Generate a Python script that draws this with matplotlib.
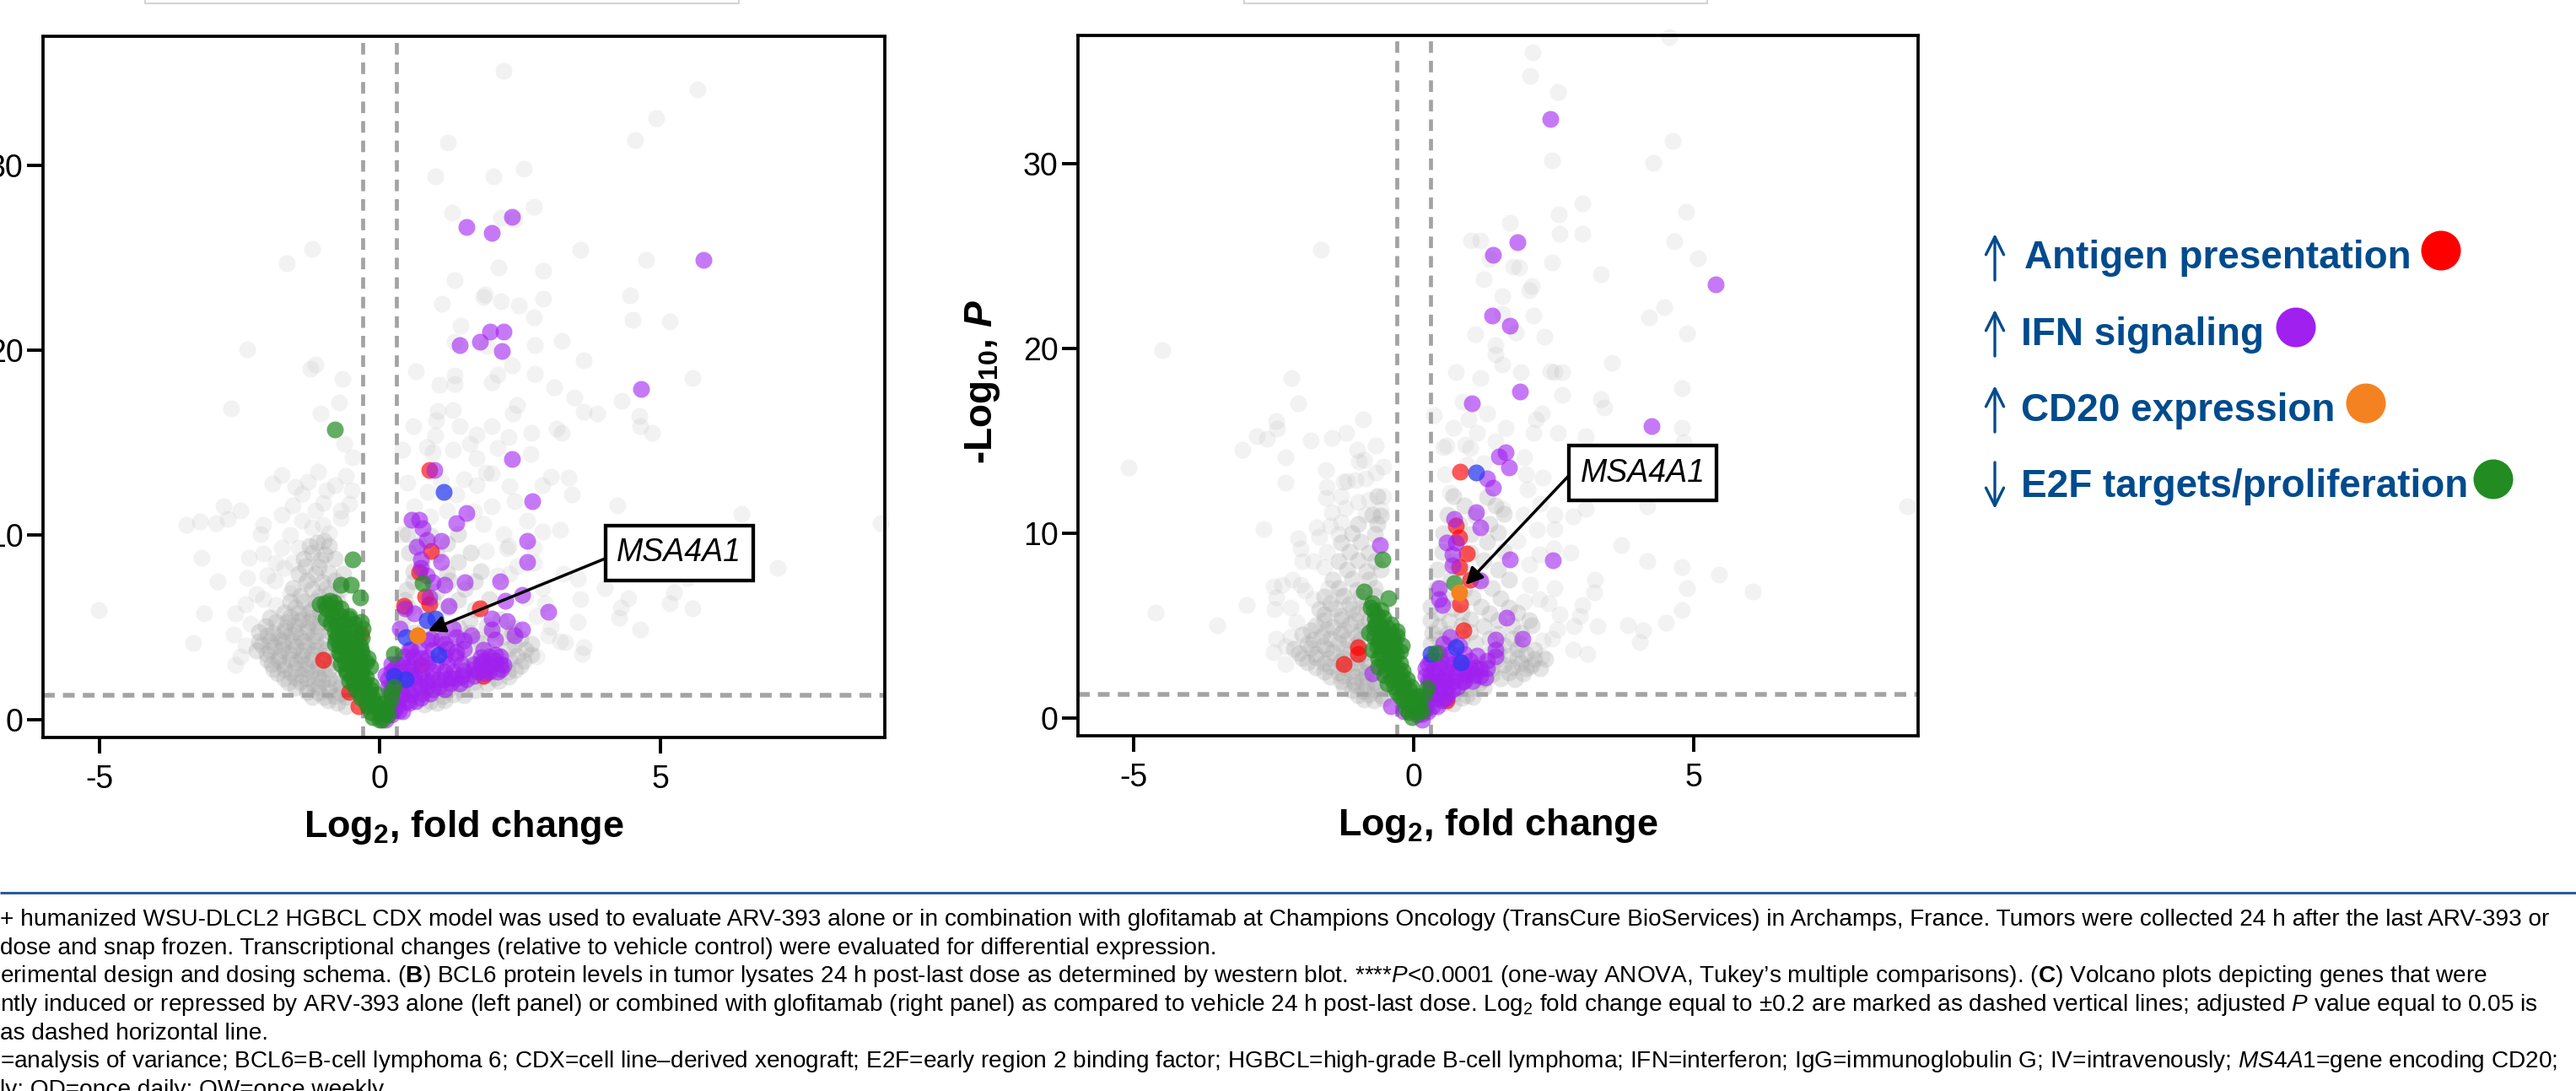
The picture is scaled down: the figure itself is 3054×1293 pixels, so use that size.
import numpy as np
from matplotlib import pyplot as plt
from matplotlib.patches import Rectangle, Ellipse

plt.rcParams['font.family'] = ['Liberation Sans', 'DejaVu Sans']
plt.rcParams['axes.unicode_minus'] = False
plt.rcParams['mathtext.fontset'] = 'custom'
plt.rcParams['mathtext.rm'] = 'Liberation Sans'
plt.rcParams['mathtext.it'] = 'Liberation Sans:italic'
plt.rcParams['mathtext.bf'] = 'Liberation Sans:bold'
plt.rcParams['mathtext.bfit'] = 'Liberation Sans:italic:bold'

# (log2 fold change, -log10 P)
left_gray = [
    (2.21,35.08),(5.67,34.09),(4.92,32.54),(4.55,31.37),(1.21,31.2),(2.57,29.8),(0.99,29.38),(2.03,29.38),
    (2.75,27.72),(1.29,27.44),(2.16,27.15),(2.4,27.08),(-1.21,25.46),(-1.65,24.7),(3.57,25.43),(4.74,24.89),
    (2.12,24.44),(2.92,24.26),(1.33,23.77),(1.88,23.01),(1.84,22.85),(1.11,22.51),(2.16,22.62),(2.47,22.41),
    (2.91,22.76),(4.46,22.94),(4.51,21.63),(5.17,21.52),(2.75,21.77),(1.44,21.32),(1.33,20.46),(1.91,20.2),
    (2.76,20.26),(3.25,20.5),(-2.37,20.05),(-1.14,19.22),(-1.24,19.0),(-0.66,18.45),(0.64,18.83),(2.36,19.16),
    (3.63,19.42),(2.77,18.69),(5.57,18.49),(1.34,18.63),(1.06,18.1),(1.34,18.16),(2.1,18.68),(2.0,18.25),
    (3.11,17.98),(3.47,17.41),(4.31,17.25),(-2.65,16.85),(-0.72,17.15),(-1.05,16.58),(1.04,16.7),(1.31,16.73),
    (2.45,17.03),(2.37,16.58),(3.64,16.67),(3.88,16.55),(4.62,16.42),(4.85,15.51),(3.16,15.74),(3.25,15.51),
    (4.64,15.89),(1.42,15.89),(1.73,15.43),(0.99,15.36),(-0.64,14.9),(-0.49,14.2),(0.41,14.6),(0.84,14.75),
    (1.31,14.6),(2.1,14.67),(2.68,14.37),(1.73,14.14),(1.89,13.38),(3.05,13.15),(3.37,13.08),(3.42,12.16),
    (2.9,12.7),(2.31,12.62),(1.73,12.7),(-1.75,13.23),(-1.91,12.77),(-1.28,12.85),(-0.8,12.7),(-1.38,12.24),
    (-1.01,11.71),(-0.7,11.33),(-2.78,11.55),(-2.49,11.33),(-2.71,10.87),(-2.92,10.61),(-3.2,10.72),(-3.45,10.56),
    (-1.75,11.1),(-1.38,10.79),(-1.01,10.56),(-2.07,10.56),(-2.12,10.03),(-5.01,5.95),(-3.13,5.77),(-3.18,8.77),
    (-2.89,7.49),(-3.32,4.17),(-2.58,5.77),(-2.57,2.95),(-2.49,3.41),(-2.39,6.23),(-2.37,7.67),(-2.07,6.53),
    (-2.34,8.74),(-2.07,8.97),(-1.7,8.2),(-1.86,7.52),(-1.6,6.84),(-1.33,7.37),(6.44,11.13),(8.92,10.64),
    (4.24,11.58),(7.09,8.2),(5.49,7.67),(5.24,6.91),(5.17,6.3),(5.57,6.0),(4.43,6.56),(4.29,6.07),(4.27,5.54),
    (4.64,4.9),(4.01,7.11),(3.58,6.53),(3.53,5.31),(3.64,3.94),(3.6,3.56),(3.21,4.25),(3.0,4.55),(2.79,3.41),
    (3.21,10.26),(2.9,10.18),(2.63,10.79),(2.21,10.03),(2.26,9.27),(1.89,9.12),(3.53,7.6),(3.27,7.9),(2.74,8.5),
    (2.31,7.9),(1.68,11.25),(2.0,11.55),(1.36,12.16),(0.94,14.45),(0.62,11.55),(0.41,10.03),
    (-1.6,10.0),(-1.45,9.3),(-1.75,9.3),(-1.2,10.4),(-0.9,10.1),(-0.7,10.9),(-0.55,11.7),(-1.55,11.6),(-1.15,11.3),
    (-0.95,12.4),(-0.6,13.2),(-1.5,12.6),(-1.1,13.4),(-0.5,12.4),(-1.85,8.5),(-1.55,8.5),(-2.0,7.8),(-2.2,6.8),
    (-1.85,6.2),(-2.3,5.2),(-2.6,4.6),(-2.4,4.0),(0.5,12.8),(0.85,12.3),(1.1,12.9),(1.5,13.0),(2.0,13.3),(2.4,11.8),
    (1.2,11.3),(0.9,11.0),(0.55,10.8),(1.85,10.6),(2.3,9.4),(2.75,9.3),(2.45,8.3),(2.1,7.8),(2.9,7.1),(2.6,6.6),
    (2.95,6.3),(2.8,5.6),(3.05,5.0),(3.3,4.2),(1.6,14.9),(2.3,15.3),(2.7,15.5),(0.6,15.9),(2.0,15.9),(1.0,16.2),
]
left_dense = [
    (-0.92,1.05),(-0.76,0.9),(-0.6,0.72),(-1.3,1.5),(-1.08,1.45),(-0.91,1.55),(-0.7,1.4),(-1.62,2.0),(-1.41,2.05),
    (-1.18,1.92),(-1.02,2.08),(-0.79,1.95),(-1.82,2.5),(-1.58,2.55),(-1.39,2.42),(-1.22,2.6),(-0.98,2.46),
    (-1.93,3.02),(-1.71,2.95),(-1.49,3.1),(-1.32,3.0),(-1.1,2.92),(-0.88,3.08),(-2.02,3.55),(-1.79,3.42),
    (-1.62,3.6),(-1.38,3.48),(-1.21,3.58),(-0.98,3.45),(-2.11,4.05),(-1.88,3.95),(-1.72,4.1),(-1.49,3.98),
    (-1.3,4.08),(-1.09,3.92),(-2.0,4.55),(-1.81,4.45),(-1.58,4.6),(-1.42,4.48),(-1.18,4.52),(-2.03,5.05),
    (-1.68,4.98),(-1.52,5.1),(-1.29,4.95),(-1.12,5.08),(-1.95,5.5),(-1.6,5.58),(-1.38,5.45),(-1.2,5.55),
    (-1.5,6.05),(-1.22,5.98),(-0.98,6.1),(-1.42,6.7),(-1.08,6.65),(-0.91,6.78),(-1.3,7.52),(-1.02,7.45),
    (-0.8,7.55),(-1.32,8.3),(-1.09,8.25),(-1.2,9.02),(-0.98,8.95),(-1.12,9.6),(-0.99,9.65),
    (-1.2,1.25),(-1.0,1.22),(-0.8,1.28),(-0.6,1.24),(-1.5,1.75),(-1.3,1.72),(-1.1,1.78),(-0.9,1.74),(-0.7,1.76),
    (-1.7,2.25),(-1.5,2.28),(-1.3,2.22),(-1.1,2.26),(-0.9,2.24),(-0.7,2.27),(-1.9,2.75),(-1.7,2.72),(-1.5,2.78),
    (-1.3,2.74),(-1.1,2.76),(-0.9,2.73),(-2.0,3.25),(-1.8,3.22),(-1.6,3.28),(-1.4,3.24),(-1.2,3.26),(-1.0,3.23),
    (-0.8,3.27),(-2.2,3.75),(-1.95,3.72),(-1.75,3.78),(-1.55,3.74),(-1.35,3.76),(-1.15,3.73),(-0.95,3.77),
    (-2.15,4.25),(-1.95,4.22),(-1.75,4.28),(-1.55,4.24),(-1.35,4.26),(-1.15,4.23),(-0.95,4.27),(-2.15,4.75),
    (-1.9,4.72),(-1.7,4.78),(-1.5,4.74),(-1.3,4.76),(-1.1,4.73),(-0.9,4.77),(-1.85,5.3),(-1.65,5.27),(-1.45,5.33),
    (-1.25,5.29),(-1.05,5.31),(-0.85,5.28),(-1.7,5.8),(-1.45,5.78),(-1.25,5.83),(-1.05,5.79),(-0.85,5.81),
    (-1.6,6.4),(-1.35,6.38),(-1.15,6.43),(-0.95,6.39),(-0.75,6.41),(-1.55,7.1),(-1.2,7.08),(-0.95,7.13),(-0.7,7.09),
    (-1.45,7.9),(-1.15,7.88),(-0.9,7.93),(-0.65,7.89),(-1.35,8.7),(-1.05,8.68),(-0.8,8.73),(-1.25,9.4),(-0.9,9.38),
    (0.79,0.82),(1.02,0.9),(1.12,1.28),(1.31,1.35),(1.5,1.3),(1.42,1.98),(1.68,2.05),(1.92,1.95),(2.12,2.08),
    (1.61,2.55),(2.02,2.62),(2.28,2.58),(2.42,2.68),(1.42,3.2),(1.88,3.15),(2.31,3.25),(2.56,3.18),(1.2,3.82),
    (1.92,3.75),(2.29,3.85),(2.6,3.78),(0.98,4.42),(1.72,4.38),(2.21,4.45),(2.5,4.36),(0.81,5.02),(1.41,4.95),
    (1.9,5.05),(2.38,4.98),(0.52,6.02),(0.82,5.95),(1.22,6.05),(1.7,5.98),(0.48,7.02),(1.02,6.95),(1.52,7.05),
    (0.6,8.02),(1.2,7.95),(1.8,8.05),(0.52,9.02),(1.02,8.95),(1.62,9.05),(0.5,10.02),(0.92,9.95),(1.4,10.05),
    (0.9,1.0),(1.15,1.03),(1.2,1.6),(1.45,1.63),(1.7,1.58),(1.5,2.3),(1.8,2.33),(2.05,2.28),(2.3,2.31),(1.7,2.9),
    (2.0,2.93),(2.2,2.88),(2.5,2.91),(1.6,3.5),(2.1,3.53),(2.45,3.48),(2.7,3.51),(1.4,4.1),(1.8,4.13),(2.4,4.08),
    (2.7,4.11),(0.6,4.7),(1.1,4.73),(1.6,4.68),(2.0,4.71),(2.35,4.72),(0.4,5.4),(1.0,5.43),(1.6,5.38),(2.15,5.41),
    (0.45,6.5),(0.95,6.53),(1.4,6.48),(1.95,6.51),(0.6,7.5),(1.25,7.53),(1.7,7.48),(0.75,8.5),(1.4,8.53),(0.7,9.5),(1.2,9.53),
]
left_red = [
    (0.89,13.5),(0.91,9.12),(0.71,7.98),(0.81,6.68),(0.89,6.23),(0.44,6.15),(1.79,6.0),(-1.01,3.26),(0.73,2.95),
    (1.84,2.35),(-0.54,1.5),(-0.38,0.75),(-0.33,4.63),
]
left_blue = [(1.14,12.31),(0.84,5.39),(0.99,5.47),(0.47,4.48),(1.05,3.49),(0.25,2.35),(0.47,2.19)]
left_purple = [
    (1.54,26.64),(1.99,26.35),(2.35,27.2),(5.77,24.89),(1.97,20.97),(2.2,20.97),(1.78,20.43),(1.42,20.24),
    (2.18,19.94),(4.66,17.88),(2.35,14.11),(0.97,13.5),(2.71,11.83),(1.54,11.17),(0.57,10.82),(0.71,10.82),
    (1.36,10.61),(0.76,10.37),(0.84,9.73),(2.63,9.65),(1.1,9.65),(0.66,9.35),(0.73,8.66),(1.1,8.51),(2.63,8.51),
    (0.73,8.2),(0.84,7.82),(1.52,7.44),(2.14,7.47),(1.15,7.29),(0.94,7.44),(2.53,6.76),(2.23,6.45),(0.89,6.61),
    (1.23,6.15),(0.45,6.0),(3.0,5.85),(0.62,5.77),(2.0,5.47),(2.26,5.34),(2.0,4.86),(2.53,4.86),(2.4,4.55),
    (0.36,4.93),(1.31,4.93),(1.63,4.55),(1.36,4.48),(0.92,4.4),(2.05,4.32),(1.15,4.1),(1.36,3.64),(1.84,3.79),
    (1.84,3.18),(2.05,3.18),(2.21,2.95),(1.68,3.03),(1.89,2.73),(2.16,2.73),(1.68,2.73),(2.05,3.49),(1.47,2.35),
    (1.26,2.27),(1.42,1.96),(1.05,2.19),(0.84,2.12),(0.62,2.42),(0.52,2.88),(0.31,3.03),(0.52,3.79),(0.73,3.33),
    (0.62,1.66),(0.94,1.66),(0.41,1.36),(0.73,1.2),(0.52,0.9),(0.31,0.75),(0.2,0.29),(0.41,0.44),(0.1,0.0),
    (0.2,1.8),(1.15,1.66),(0.1,2.42),(0.25,2.73),(1.26,1.96),(1.68,2.35),(1.89,2.5),
    (0.12,0.5),(0.25,0.52),(0.35,0.48),(0.2,1.0),(0.35,1.03),(0.5,0.98),(0.65,1.01),(0.2,1.4),(0.4,1.43),(0.55,1.38),
    (0.75,1.41),(0.9,1.42),(0.15,1.8),(0.35,1.83),(0.5,1.78),(0.7,1.81),(0.85,1.82),(1.05,1.79),(0.15,2.2),(0.3,2.23),
    (0.45,2.18),(0.6,2.21),(0.75,2.22),(0.95,2.19),(1.15,2.21),(1.35,2.23),(1.55,2.18),(0.2,2.6),(0.35,2.63),(0.55,2.58),
    (0.75,2.61),(0.95,2.62),(1.15,2.59),(1.3,2.61),(1.5,2.63),(1.75,2.58),(1.95,2.61),(2.1,2.62),(0.2,3.0),(0.4,3.03),
    (0.6,2.98),(0.85,3.01),(1.0,3.02),(1.2,2.99),(1.45,3.01),(1.8,3.03),(1.95,2.98),(2.15,3.01),(0.45,3.4),(0.6,3.43),
    (0.85,3.38),(1.15,3.41),(1.35,3.42),(1.8,3.39),(1.95,3.41),(2.15,3.43),(0.55,3.8),(0.7,3.83),(0.95,3.78),(1.2,3.81),
    (1.5,3.82),(0.85,4.3),(1.1,4.33),(1.5,4.28),
]
left_green = [
    (-0.8,15.69),(0.76,7.4),(0.25,3.56),(0.25,1.8),(-0.48,8.69),(-0.7,7.29),(-0.52,7.32),(-0.35,6.61),(-1.07,6.23),
    (-0.89,6.45),(-0.8,6.07),(-0.96,5.47),(-0.7,5.62),(-0.33,5.31),(-0.54,5.47),(-0.75,5.16),(-0.54,4.86),
    (-0.31,4.93),(-0.75,4.55),(-0.54,4.4),(-0.8,4.1),(-0.59,3.94),(-0.33,3.79),(-0.7,3.49),(-0.49,3.33),
    (-0.22,3.33),(-0.7,3.03),(-0.43,2.88),(-0.17,2.88),(-0.59,2.57),(-0.33,2.42),(-0.54,2.12),(-0.27,2.04),
    (-0.43,1.66),(-0.17,1.66),(-0.33,1.2),(-0.12,1.13),(-0.22,0.75),(-0.01,0.6),(0.15,0.75),(-0.12,0.14),
    (0.04,0.0),(0.0,-0.02),(0.15,0.29),(0.2,1.13),(0.2,1.5),
    (-0.15,0.4),(0.0,0.42),(0.1,0.38),(-0.25,0.9),(-0.1,0.93),(0.05,0.88),(-0.35,1.4),(-0.2,1.43),(-0.05,1.38),
    (-0.45,1.9),(-0.3,1.93),(-0.15,1.88),(-0.5,2.3),(-0.4,2.33),(-0.25,2.28),(-0.6,2.7),(-0.48,2.73),(-0.32,2.68),
    (-0.62,3.1),(-0.5,3.13),(-0.35,3.08),(-0.25,3.11),(-0.72,3.6),(-0.6,3.63),(-0.48,3.58),(-0.32,3.61),(-0.72,4.0),
    (-0.6,4.03),(-0.45,3.98),(-0.35,4.01),(-0.78,4.4),(-0.65,4.43),(-0.42,4.38),(-0.32,4.41),(-0.8,4.8),(-0.65,4.83),
    (-0.42,4.78),(-0.88,5.2),(-0.62,5.23),(-0.45,5.18),(-0.85,5.6),(-0.55,5.63),(-0.95,6.0),(-0.7,6.03),(-0.98,6.3),(-0.82,6.33),
]
left_orange = [(0.67,4.55)]

right_gray = [
    (4.55,36.88),(2.12,36.04),(2.07,34.78),(2.57,33.91),(4.61,31.25),(2.46,30.21),(4.27,30.06),(3.0,27.86),
    (2.59,27.29),(4.86,27.41),(1.71,26.81),(2.6,26.23),(3.0,26.23),(1.02,25.85),(1.19,25.85),(4.65,25.82),
    (-1.66,25.36),(5.07,24.89),(2.46,24.66),(1.77,24.43),(1.87,24.4),(1.35,24.86),(1.24,23.75),(3.34,24.02),
    (2.1,23.38),(2.05,23.14),(1.57,22.83),(4.47,22.24),(4.19,21.71),(1.57,21.89),(2.14,21.78),(1.82,20.9),
    (1.1,20.79),(2.33,20.64),(4.88,20.84),(-4.49,19.94),(1.46,20.21),(1.46,19.68),(1.57,19.12),(3.53,19.23),
    (0.75,18.74),(1.18,18.42),(1.91,18.72),(2.44,18.77),(2.51,18.74),(2.65,18.72),(-2.19,18.42),(-2.07,17.06),
    (4.79,17.86),(2.65,17.52),(3.34,17.28),(3.4,16.79),(0.86,17.13),(-0.91,16.18),(0.36,16.41),(1.3,16.49),
    (0.97,16.18),(2.29,16.49),(2.18,16.18),(-2.46,16.1),(-5.09,13.59),(-4.61,5.71),(-3.51,5.04),(-2.99,6.14),
    (-3.07,14.51),(-2.68,10.25),(-2.81,15.27),(-2.62,15.12),(-2.44,15.65),(-1.85,15.04),(-1.46,15.19),
    (-1.21,15.45),(-0.69,14.74),(-1.02,14.51),(-2.29,14.13),(-0.99,13.9),(-2.29,12.76),(-1.57,13.44),(-1.19,12.83),
    (-0.86,12.99),(-0.69,13.29),(-1.55,12.53),(-1.57,11.92),(-1.3,12.0),(-1.23,11.39),(-0.8,11.84),(-0.55,12.0),
    (-1.46,11.16),(-0.86,11.01),(-1.74,10.32),(-2.07,9.71),(-1.35,9.94),(-2.02,9.18),(-1.8,8.5),(-2.18,7.51),
    (-2.51,7.13),(-2.35,7.2),(-2.02,7.2),(-2.46,6.52),(-2.49,5.91),(-2.46,4.31),(-2.51,3.55),(-2.29,2.94),
    (-1.52,7.05),(-1.8,6.44),(-1.3,6.59),(0.58,14.74),(0.91,14.81),(1.13,15.42),(1.63,15.73),(2.13,15.42),
    (3.07,15.27),(2.57,15.42),(4.78,15.73),(4.81,14.96),(3.9,12.45),(4.17,11.46),(8.8,11.46),(3.7,9.38),(4.16,8.5),
    (4.78,8.19),(5.44,7.78),(4.88,7.05),(6.05,6.85),(4.78,5.86),(4.5,5.15),(3.82,5.04),(4.09,4.77),(4.03,4.13),
    (3.28,4.99),(2.96,5.53),(3.01,6.14),(3.23,7.51),(3.21,6.82),(2.51,7.05),(2.07,7.2),(1.96,6.29),(2.24,6.44),
    (2.51,10.25),(2.79,8.95),(2.24,8.88),(2.84,10.93),(3.07,11.31),(2.51,10.99),(2.02,12.38),(1.96,14.13),
    (1.57,11.31),(0.52,14.66),(0.64,12.22),(2.84,3.7),(3.1,3.47),(2.29,3.32),(2.46,4.31),(2.07,2.79),
    (-1.6,8.2),(-2.0,8.5),(-1.55,9.0),(-1.7,9.8),(-1.3,10.6),(-1.5,10.4),(-1.0,11.7),(-1.25,12.8),(-1.05,12.9),
    (-0.55,13.6),(-0.9,14.0),(-2.2,6.0),(-2.1,5.2),(-2.2,4.4),(-2.3,3.9),(-1.95,6.9),(-0.6,11.3),(0.55,13.2),(0.95,13.7),
    (1.25,13.8),(1.0,14.6),(1.45,15.0),(0.7,15.7),(2.3,13.0),(2.0,13.2),(2.25,11.6),(1.95,11.0),(2.2,10.2),(1.85,9.6),
    (2.5,9.2),(2.05,8.3),(2.4,6.2),(2.6,5.6),(2.55,4.8),(2.3,4.2),(2.85,5.0),
]
right_dense = [
    (-0.9,1.02),(-0.72,0.95),(-0.55,1.05),(-1.1,1.5),(-0.91,1.45),(-0.7,1.55),(-1.3,2.02),(-1.08,1.95),(-0.92,2.05),
    (-0.7,1.98),(-1.6,2.52),(-1.35,2.45),(-1.12,2.55),(-0.85,2.48),(-1.9,3.02),(-1.6,2.95),(-1.32,3.05),(-1.05,2.98),
    (-0.85,3.06),(-2.05,3.52),(-1.75,3.45),(-1.45,3.55),(-1.15,3.48),(-0.9,3.54),(-1.9,4.02),(-1.62,3.95),(-1.35,4.06),
    (-1.05,3.98),(-2.0,4.52),(-1.65,4.45),(-1.3,4.55),(-1.02,4.48),(-1.75,5.02),(-1.45,4.95),(-1.15,5.06),(-0.9,4.98),
    (-1.6,5.62),(-1.3,5.55),(-1.02,5.65),(-1.5,6.22),(-1.15,6.15),(-0.85,6.25),(-1.35,7.02),(-1.02,6.95),(-0.7,7.05),
    (-1.2,8.02),(-0.85,7.95),(-0.6,8.05),(-1.15,9.02),(-0.8,8.95),(-1.1,10.02),(-0.7,9.95),(-0.75,11.02),(-0.6,10.95),
    (-0.65,12.02),(0.55,0.82),(0.7,0.78),(0.7,1.3),(0.95,1.25),(0.9,1.92),(1.15,1.88),(1.1,2.42),(1.4,2.38),(1.7,2.45),
    (1.95,2.4),(1.2,2.92),(1.6,2.88),(1.9,2.95),(2.1,2.9),(1.3,3.42),(1.7,3.38),(2.0,3.45),(0.3,4.02),(0.6,3.98),
    (1.1,4.05),(1.6,3.95),(1.9,4.02),(0.32,4.62),(0.6,4.55),(1.0,4.65),(1.5,4.58),(1.9,4.6),(0.3,5.32),(0.62,5.25),
    (1.0,5.35),(1.5,5.28),(2.05,5.3),(0.3,6.02),(0.7,5.95),(1.2,6.05),(1.7,5.98),(0.4,7.02),(0.9,6.95),(1.4,7.05),
    (0.42,8.02),(0.9,7.95),(1.5,8.05),(0.5,9.02),(1.0,8.95),(1.6,9.05),(0.52,10.02),(1.02,9.95),(1.5,10.05),(0.6,11.02),
    (1.1,10.95),(1.6,11.05),(0.7,12.02),(1.3,11.95),
    (-1.0,1.25),(-0.8,1.28),(-0.6,1.23),(-1.25,1.75),(-1.05,1.78),(-0.85,1.73),(-0.65,1.76),(-1.5,2.25),(-1.25,2.28),
    (-1.05,2.23),(-0.85,2.26),(-1.75,2.75),(-1.5,2.78),(-1.25,2.73),(-1.0,2.76),(-0.8,2.77),(-2.0,3.25),(-1.75,3.28),
    (-1.5,3.23),(-1.25,3.26),(-1.0,3.27),(-2.15,3.75),(-1.85,3.78),(-1.55,3.73),(-1.25,3.76),(-1.0,3.77),(-1.8,4.25),
    (-1.5,4.28),(-1.2,4.23),(-0.95,4.26),(-1.85,4.75),(-1.55,4.78),(-1.25,4.73),(-0.95,4.76),(-1.6,5.3),(-1.3,5.33),
    (-1.05,5.28),(-0.8,5.31),(-1.7,5.9),(-1.4,5.93),(-1.1,5.88),(-0.85,5.91),(-1.6,6.6),(-1.25,6.63),(-0.95,6.58),
    (-0.7,6.61),(-1.45,7.5),(-1.1,7.53),(-0.8,7.48),(-1.35,8.5),(-1.0,8.53),(-0.7,8.48),(-1.3,9.5),(-0.95,9.53),
    (-1.0,10.5),(-0.65,10.53),(0.85,1.1),(1.05,1.13),(1.0,1.6),(1.25,1.63),(1.25,2.1),(1.55,2.13),(1.8,2.08),(1.4,2.7),
    (1.75,2.73),(2.0,2.68),(2.25,2.71),(1.5,3.2),(1.85,3.23),(2.15,3.18),(2.35,3.21),(1.5,3.7),(1.85,3.73),(2.15,3.68),
    (0.45,4.3),(0.85,4.33),(1.35,4.28),(1.75,4.31),(0.45,5.0),(0.85,5.03),(1.25,4.98),(1.75,5.01),(2.1,5.02),(0.45,5.7),
    (0.85,5.73),(1.35,5.68),(1.85,5.71),(0.55,6.5),(1.05,6.53),(1.55,6.48),(0.65,7.5),(1.15,7.53),(1.7,7.48),(0.7,8.5),
    (1.25,8.53),(0.75,9.5),(1.3,9.53),(0.8,10.5),(1.35,10.53),(0.9,11.5),(1.45,11.53),
]
right_red = [
    (0.82,13.32),(0.75,10.4),(0.8,9.79),(0.95,8.91),(0.8,8.19),(1.0,7.51),(0.82,6.17),(0.89,4.74),(-1.0,3.85),
    (-1.0,3.47),(-1.25,2.91),(0.58,0.96),(0.3,1.95),
]
right_blue = [(1.11,13.29),(0.3,3.47),(0.75,3.85),(0.83,3.0)]
right_purple = [
    (2.44,32.44),(1.85,25.77),(1.41,25.08),(5.38,23.46),(1.39,21.81),(1.71,21.25),(1.89,17.67),(1.04,17.05),(4.24,15.8),
    (1.63,14.39),(1.52,14.17),(1.7,13.59),(1.3,12.99),(1.41,12.45),(1.11,11.16),(1.19,10.32),(0.72,10.78),(-0.61,9.38),
    (0.58,9.49),(0.75,9.49),(0.69,8.88),(1.71,8.6),(2.48,8.53),(0.69,8.27),(1.19,7.43),(0.44,7.05),(0.44,6.44),(0.5,6.14),
    (1.65,5.42),(0.64,4.39),(1.93,4.31),(1.46,4.23),(0.8,3.93),(0.52,4.0),(1.46,3.7),(1.13,3.4),(1.3,3.1),(1.46,3.32),
    (-0.75,2.41),(0.25,2.94),(0.47,3.1),(0.69,2.94),(0.91,2.79),(0.36,2.64),(0.64,2.48),(0.91,2.41),(1.08,2.33),(1.28,2.18),
    (0.3,2.33),(0.58,2.1),(0.86,1.95),(0.47,1.72),(0.69,1.57),(0.3,1.42),(0.58,1.11),(0.41,0.66),(0.25,0.35),(-0.19,0.35),
    (-0.41,0.66),(0.14,-0.1),(1.02,2.64),(1.19,2.64),
    (0.05,0.2),(0.15,0.22),(0.2,0.6),(0.32,0.63),(0.25,1.0),(0.38,1.03),(0.5,0.98),(0.3,1.3),(0.45,1.33),(0.6,1.28),
    (0.3,1.7),(0.42,1.73),(0.6,1.68),(0.78,1.71),(0.25,2.0),(0.4,2.03),(0.55,1.98),(0.72,2.01),(0.9,2.02),(1.05,1.99),
    (0.2,2.3),(0.42,2.33),(0.55,2.28),(0.75,2.31),(0.95,2.32),(1.18,2.29),(0.2,2.7),(0.45,2.73),(0.55,2.68),(0.8,2.71),
    (1.1,2.72),(1.3,2.69),(0.3,3.1),(0.6,3.13),(0.8,3.08),(1.0,3.11),(0.45,3.5),(0.65,3.53),(0.9,3.48),
]
right_green = [
    (-0.57,8.6),(-0.89,6.85),(-0.46,6.47),(0.71,7.31),(0.39,3.52),(0.23,1.65),(0.19,1.27),(-0.77,5.98),(-0.66,5.53),
    (-0.69,5.07),(-0.41,5.07),(-0.8,4.61),(-0.55,4.61),(-0.3,4.69),(-0.64,4.16),(-0.36,4.31),(-0.75,3.7),(-0.47,3.85),
    (-0.25,3.63),(-0.64,3.24),(-0.36,3.24),(-0.64,2.79),(-0.3,2.79),(-0.53,2.33),(-0.25,2.41),(-0.47,1.87),(-0.19,1.95),
    (-0.3,1.42),(-0.08,1.5),(-0.19,0.96),(0.03,1.04),(-0.14,0.5),(0.08,0.5),(-0.03,0.05),(0.14,0.35),
    (-0.1,0.3),(0.05,0.32),(-0.12,0.8),(0.0,0.83),(0.1,0.78),(-0.25,1.2),(-0.1,1.23),(0.05,1.18),(-0.35,1.7),(-0.2,1.73),
    (-0.05,1.68),(-0.4,2.1),(-0.28,2.13),(-0.12,2.08),(-0.5,2.6),(-0.38,2.63),(-0.2,2.58),(-0.55,3.0),(-0.42,3.03),
    (-0.25,2.98),(-0.6,3.5),(-0.45,3.53),(-0.32,3.48),(-0.65,3.9),(-0.52,3.93),(-0.35,3.88),(-0.22,3.91),(-0.72,4.4),
    (-0.6,4.43),(-0.45,4.38),(-0.3,4.41),(-0.72,4.9),(-0.58,4.93),(-0.48,4.88),(-0.7,5.4),(-0.55,5.43),(-0.72,5.8),(-0.6,5.83),(-0.75,6.2),
]
right_orange = [(0.8,6.8)]

xticks = [-5, 0, 5]
yticks = [0, 10, 20, 30]
legend_labels = ['Antigen presentation', 'IFN signaling', 'CD20 expression', 'E2F targets/proliferation']
legend_colors = ['#ff0000', '#a020f0', '#f58220', '#228b22']

footer_lines = [
    "+ humanized WSU-DLCL2 HGBCL CDX model was used to evaluate ARV-393 alone or in combination with glofitamab at Champions Oncology (TransCure BioServices) in Archamps, France. Tumors were collected 24 h after the last ARV-393 or",
    "dose and snap frozen. Transcriptional changes (relative to vehicle control) were evaluated for differential expression.",
    r"erimental design and dosing schema. ($\mathbf{B}$) BCL6 protein levels in tumor lysates 24 h post-last dose as determined by western blot. ****$\mathit{P}$<0.0001 (one-way ANOVA, Tukey’s multiple comparisons). ($\mathbf{C}$) Volcano plots depicting genes that were",
    r"ntly induced or repressed by ARV-393 alone (left panel) or combined with glofitamab (right panel) as compared to vehicle 24 h post-last dose. Log$_2$ fold change equal to ±0.2 are marked as dashed vertical lines; adjusted $\mathit{P}$ value equal to 0.05 is",
    "as dashed horizontal line.",
    r"=analysis of variance; BCL6=B-cell lymphoma 6; CDX=cell line–derived xenograft; E2F=early region 2 binding factor; HGBCL=high-grade B-cell lymphoma; IFN=interferon; IgG=immunoglobulin G; IV=intravenously; $\mathit{MS4A1}$=gene encoding CD20;",
    "ly; QD=once daily; QW=once weekly.",
]

W, H = 3054, 1293
DOT = 207


def volcano(ax, gray, dense, red, blue, purple, green, orange):
    ax.axvline(-0.3, color='#a3a3a3', lw=3.4, ls=(0, (2.9, 2.0)), dash_capstyle='butt', zorder=1)
    ax.axvline(0.3, color='#a3a3a3', lw=3.4, ls=(0, (2.9, 2.0)), dash_capstyle='butt', zorder=1)
    ax.axhline(1.3, color='#a3a3a3', lw=4, ls=(0, (2.5, 1.75)), dash_capstyle='butt', zorder=1)
    series = [
        (gray, '#a9a9a9', 0.15), (dense, '#a9a9a9', 0.3), (red, '#ff0000', 0.65),
        (purple, '#a020f0', 0.6), (blue, '#2a3cf0', 0.75), (green, '#228b22', 0.7), (orange, '#f58220', 1.0),
    ]
    for i, (pts, color, alpha) in enumerate(series):
        pts = np.array(pts)
        ax.scatter(pts[:, 0], pts[:, 1], s=DOT, color=color, alpha=alpha, linewidths=0, clip_on=False, zorder=2 + i)
    ax.set_xlim(-6, 9)
    ax.set_ylim(-0.96, 36.96)
    ax.set_xticks(xticks)
    ax.set_yticks(yticks)
    ax.tick_params(axis='x', length=13.7, width=2.8, labelsize=27, pad=9)
    ax.tick_params(axis='y', length=14, width=2.8, labelsize=27, pad=3)
    for s in ax.spines.values():
        s.set_linewidth(2.7)
        s.set_zorder(20)
    ax.set_xlabel(r'Log$_{\mathbf{2}}$, fold change', fontsize=32.4, fontweight='bold', labelpad=12)


def callout(ax, box_x, box_y, tip, start_frac):
    w, h = 2.63, 2.97
    ax.add_patch(Rectangle((box_x, box_y), w, h, fc='white', ec='black', lw=3.1, zorder=15, clip_on=False))
    ax.text(box_x + w / 2, box_y + h / 2, 'MSA4A1', style='italic', fontsize=27, ha='center', va='center', zorder=16)
    ax.annotate('', xy=tip, xytext=(box_x, box_y + h * start_frac),
                arrowprops=dict(arrowstyle='-|>', color='black', lw=2.5, mutation_scale=30, shrinkA=0, shrinkB=0),
                zorder=14)


fig = plt.figure(figsize=(W / 100, H / 100), dpi=100)

# pixel overlay for the legend, the footer and the boxes cut by the top edge
page = fig.add_axes([0, 0, 1, 1], zorder=0)
page.set_xlim(0, W)
page.set_ylim(H, 0)
page.axis('off')

ax_left = fig.add_axes([51 / W, 1 - 874 / H, 998 / W, 831 / H], zorder=1)
ax_right = fig.add_axes([1278 / W, 1 - 872 / H, 996 / W, 830 / H], zorder=1)
for a in (ax_left, ax_right):
    a.patch.set_alpha(0)

volcano(ax_left, left_gray, left_dense, left_red, left_blue, left_purple, left_green, left_orange)
volcano(ax_right, right_gray, right_dense, right_red, right_blue, right_purple, right_green, right_orange)
callout(ax_left, 4.02, 7.53, (0.86, 4.8), 0.4)
callout(ax_right, 2.77, 11.78, (0.92, 7.21), 0.46)

fig.text(1165 / W, 1 - 453 / H, r'-Log$_{\mathbf{10}}$, $\mathbfit{P}$', rotation=90, fontsize=33, fontweight='bold',
         ha='center', va='center')

for x0, x1 in [(172, 876), (1475, 2024)]:
    page.add_patch(Rectangle((x0, -10), x1 - x0, 14, fc='white', ec='#d4d4d4', lw=1.5))

# legend
arrow_x = 2365
arrow_tops = [277, 367, 457, 548]
text_x = [2400, 2396, 2396, 2396]
baselines = [318, 409, 499, 589]
dot_x = [2894, 2722, 2805, 2956]
dot_y = [297, 388, 478, 568]
for i, label in enumerate(legend_labels):
    y0, y1 = arrow_tops[i], arrow_tops[i] + 55
    tip, tail = (y1, y0) if i == 3 else (y0, y1)
    page.annotate('', xy=(arrow_x, tip), xytext=(arrow_x, tail),
                  arrowprops=dict(arrowstyle='->', color='#004b8d', lw=2.4, mutation_scale=38, shrinkA=0, shrinkB=0))
    page.text(text_x[i], baselines[i], label, color='#004b8d', fontsize=33, fontweight='bold', va='baseline')
    page.add_patch(Ellipse((dot_x[i], dot_y[i]), 47, 47, fc=legend_colors[i], ec='none'))

# footer
page.plot([0, W], [1058, 1058], color='#2a5c9a', lw=2.2, solid_capstyle='butt')
footer_y = [1097, 1131, 1164, 1198, 1232, 1265, 1299]
for y, line in zip(footer_y, footer_lines):
    page.text(0, y, line, fontsize=20.2, va='baseline', ha='left', color='black')

fig.savefig('out.png', dpi=100)
